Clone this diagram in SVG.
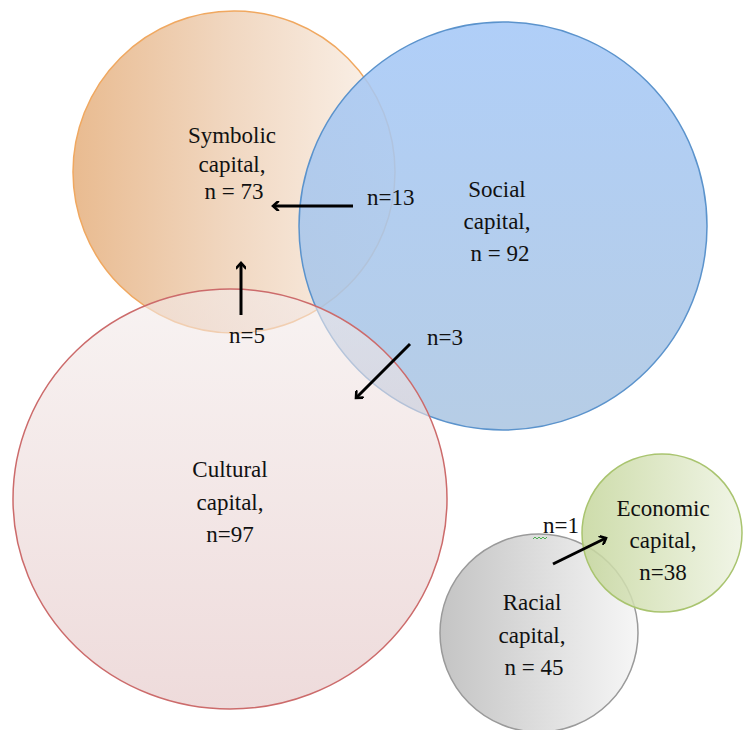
<svg xmlns="http://www.w3.org/2000/svg" width="743" height="730" viewBox="0 0 743 730">
<style>
text{font-size:23px;fill:#111;text-anchor:middle}
.lbl{text-anchor:start}
.arr{stroke:#000;stroke-width:3;fill:none;marker-end:url(#ah)}
</style>
<defs>
<linearGradient id="gOr" x1="0" y1="0" x2="1" y2="0">
<stop offset="0" stop-color="#e9bb90"/><stop offset="0.5" stop-color="#f1d8c2"/><stop offset="1" stop-color="#fbf3ec"/>
</linearGradient>
<linearGradient id="gBl" x1="0" y1="0" x2="0" y2="1">
<stop offset="0" stop-color="#a5c8f7"/><stop offset="1" stop-color="#acc6e2"/>
</linearGradient>
<linearGradient id="gRd" x1="0" y1="0" x2="0" y2="1">
<stop offset="0" stop-color="#f3ebea"/><stop offset="1" stop-color="#e3c3c3"/>
</linearGradient>
<linearGradient id="gGr" x1="0" y1="0" x2="1" y2="0">
<stop offset="0" stop-color="#c4c4c4"/><stop offset="1" stop-color="#f6f6f6"/>
</linearGradient>
<linearGradient id="gGn" x1="0" y1="0" x2="1" y2="0">
<stop offset="0" stop-color="#c5d69c"/><stop offset="1" stop-color="#eef3e2"/>
</linearGradient>
<marker id="ah" markerWidth="10" markerHeight="10" viewBox="-6 -5 8 10" refX="0" refY="0" orient="auto" markerUnits="userSpaceOnUse">
<path d="M-5,-4.5 L0,0 L-5,4.5" stroke="#000" stroke-width="2.6" fill="none" stroke-linecap="round" stroke-linejoin="miter"/>
</marker>
</defs>
<g id="symbolic">
<circle cx="234" cy="172" r="161" fill="url(#gOr)" stroke="#f0a860" stroke-width="1.5"/>
</g>
<g id="social">
<circle cx="503" cy="226" r="204" fill="url(#gBl)" fill-opacity="0.88" stroke="#5b93cc" stroke-width="1.5"/>
</g>
<g id="cultural">
<ellipse cx="230" cy="499" rx="217" ry="210" fill="url(#gRd)" fill-opacity="0.6" stroke="#cc6b6b" stroke-width="1.5"/>
</g>
<g id="racial">
<circle cx="539" cy="633" r="99" fill="url(#gGr)" stroke="#9a9a9a" stroke-width="1.5"/>
</g>
<g id="economic">
<ellipse cx="662" cy="533" rx="80" ry="79" fill="url(#gGn)" fill-opacity="0.85" stroke="#a9c46f" stroke-width="1.5"/>
</g>
<g id="texts" font-family="Liberation Serif, serif">
<text x="232" y="143">Symbolic</text>
<text x="232" y="172">capital,</text>
<text x="234" y="199">n = 73</text>
<text x="497" y="197">Social</text>
<text x="497" y="229">capital,</text>
<text x="500" y="261">n = 92</text>
<text x="230" y="477">Cultural</text>
<text x="230" y="510">capital,</text>
<text x="230" y="542">n=97</text>
<text x="532" y="610">Racial</text>
<text x="532" y="643">capital,</text>
<text x="534" y="675">n = 45</text>
<text x="663" y="516">Economic</text>
<text x="663" y="548">capital,</text>
<text x="663" y="580">n=38</text>
</g>
<g id="connectors" font-family="Liberation Serif, serif">
<line class="arr" x1="353" y1="206" x2="273" y2="206"/>
<line class="arr" x1="241" y1="315" x2="241" y2="263"/>
<line class="arr" x1="410" y1="344" x2="356" y2="398"/>
<line class="arr" x1="553" y1="564" x2="606" y2="538"/>
<text class="lbl" x="367" y="205">n=13</text>
<text class="lbl" x="229" y="343">n=5</text>
<text class="lbl" x="427" y="345">n=3</text>
<text class="lbl" x="543" y="533">n=1</text>
<path d="M533,539 l2,-2 l2,2 l2,-2 l2,2 l2,-2 l2,2 l2,-2" stroke="#4caf50" stroke-width="1" fill="none"/>
</g>
</svg>
